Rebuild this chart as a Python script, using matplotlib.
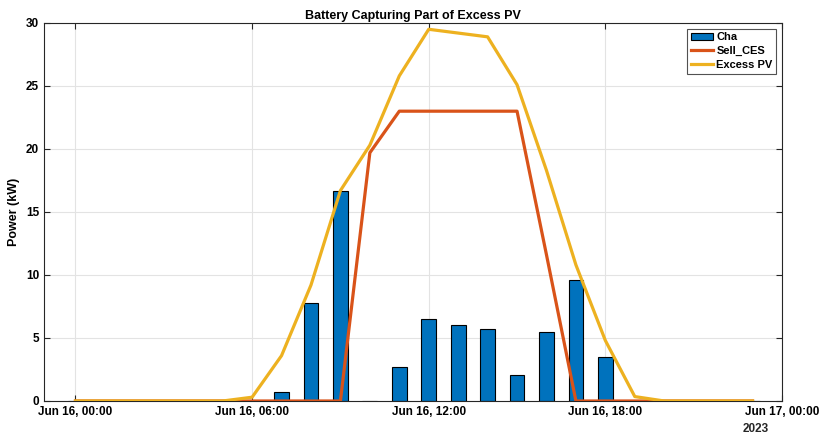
import numpy as np
import matplotlib
matplotlib.use("Agg")
import matplotlib.pyplot as plt
import matplotlib.dates as mdates
import pandas as pd

# -------------------
# DATA (hourly, Jun 16 2023)
# -------------------
hours = np.arange(24)
charge_kw = [0, 0, 0, 0, 0, 0, 0, 0.7, 7.75, 16.67, 0, 2.72, 6.48, 6.0,
             5.74, 2.06, 5.45, 9.63, 3.47, 0, 0, 0, 0, 0]
sell_ces_kw = [0, 0, 0, 0, 0, 0, 0, 0, 0, 0, 19.7, 23.0, 23.0, 23.0,
               23.0, 23.0, 11.6, 0, 0, 0, 0, 0, 0, 0]
excess_pv_kw = [0, 0, 0, 0, 0, 0, 0.3, 3.6, 9.2, 16.7, 20.3, 25.8, 29.5, 29.2,
                28.9, 25.1, 18.3, 10.8, 4.8, 0.35, 0, 0, 0, 0]

t0 = pd.Timestamp("2023-06-16 00:00")
times = [t0 + pd.Timedelta(hours=int(h)) for h in hours]

plt.rcParams['font.family'] = ['Liberation Sans', 'DejaVu Sans']
plt.rcParams['font.weight'] = 'bold'

fig = plt.figure(figsize=(8.19, 4.37), dpi=100)
ax = fig.add_axes([0.0537, 0.0824, 0.9011, 0.865])

bars = ax.bar(times, charge_kw, width=0.5 / 24, color='#0072BD', edgecolor='black',
              linewidth=0.8, label='Cha', zorder=2)
l1, = ax.plot(times, sell_ces_kw, color='#D95319', linewidth=2.3, label='Sell_CES', zorder=3)
l2, = ax.plot(times, excess_pv_kw, color='#EDB120', linewidth=2.3, label='Excess PV', zorder=4)

ax.set_xlim(t0 - pd.Timedelta(hours=1.07), t0 + pd.Timedelta(hours=24))
ax.set_ylim(0, 30)
ax.set_yticks(np.arange(0, 31, 5))
ax.xaxis.set_major_locator(mdates.HourLocator(byhour=[0, 6, 12, 18]))
ax.xaxis.set_major_formatter(mdates.DateFormatter('%b %d, %H:%M'))

ax.grid(True, color='#e3e3e3', linewidth=0.8, zorder=0)
ax.set_axisbelow(True)
for s in ax.spines.values():
    s.set_color('#262626')
    s.set_linewidth(0.8)
ax.tick_params(direction='in', length=4, width=0.8, color='#262626',
               labelsize=8.5, top=True, right=True, pad=3.5)
for lbl in ax.get_xticklabels() + ax.get_yticklabels():
    lbl.set_fontweight('bold')

ax.text(0.946, -0.058, '2023', transform=ax.transAxes, ha='left', va='top',
        fontsize=8.5, fontweight='bold', color='#262626')

ax.set_ylabel('Power (kW)', fontsize=9, fontweight='bold', labelpad=4)
ax.set_title('Battery Capturing Part of Excess PV', fontsize=9, fontweight='bold', pad=3)

leg = ax.legend([bars, l1, l2], ['Cha', 'Sell_CES', 'Excess PV'],
                loc='upper right', fontsize=8, frameon=True, fancybox=False,
                edgecolor='#262626', borderpad=0.35, labelspacing=0.35,
                handlelength=2.0, handletextpad=0.3, borderaxespad=0.5)
leg.get_frame().set_linewidth(0.8)
for t in leg.get_texts():
    t.set_fontweight('bold')

plt.savefig("out.png", dpi=100)
